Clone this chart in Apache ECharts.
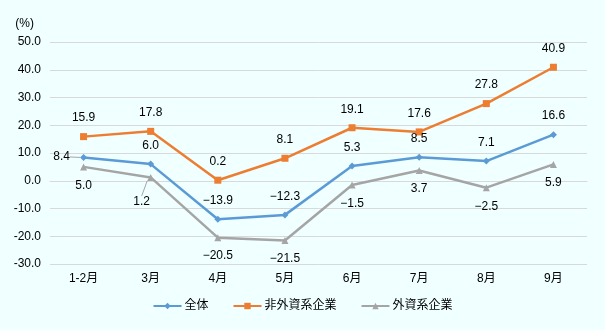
<!DOCTYPE html>
<html>
<head>
<meta charset="utf-8">
<script src="https://cdn.jsdelivr.net/npm/echarts@6/dist/echarts.min.js"></script>
<style>
  html, body { margin: 0; padding: 0; background: #F0FFFF; }
  #chart { width: 605px; height: 330px; }
</style>
</head>
<body>
<div id="chart"></div>
<script>
// Month categories on the x axis
const months = ['1-2月', '3月', '4月', '5月', '6月', '7月', '8月', '9月'];

// Year-on-year growth (%) per group
const total      = [8.4, 6.0, -13.9, -12.3, 5.3, 8.5, 7.1, 16.6];
const nonForeign = [15.9, 17.8, 0.2, 8.1, 19.1, 17.6, 27.8, 40.9];
const foreign    = [5.0, 1.2, -20.5, -21.5, -1.5, 3.7, -2.5, 5.9];

const seriesNames = ['全体', '非外資系企業', '外資系企業'];

const FONT = "'Liberation Sans', 'Noto Sans CJK JP', sans-serif";

const chart = echarts.init(document.getElementById('chart'));

function fmt(v) {
  return v.toFixed(1).replace('-', '\u2212');
}

function labelStyle(pos) {
  return {
    show: true,
    position: pos,
    distance: 9,
    color: '#000',
    fontSize: 12,
    fontFamily: FONT,
    formatter: p => fmt(p.value)
  };
}

const guide = { show: true, lineStyle: { color: '#A6A6A6', width: 1 } };

// Wrap values; the item at `tied` gets a leader line back to its point
function withGuide(values, tied) {
  return values.map((v, i) => i === tied ? { value: v, labelLine: guide } : v);
}

// A couple of labels are pulled aside from their point
function shiftLabels(params) {
  if (params.seriesIndex === 0 && params.dataIndex === 0) {
    return { dx: -22, dy: 18 };
  }
  if (params.seriesIndex === 2 && params.dataIndex === 1) {
    return { dx: -9, dy: 6 };
  }
  return {};
}

chart.setOption({
  backgroundColor: '#F0FFFF',
  animation: false,
  textStyle: { fontFamily: FONT },
  grid: { left: 50, right: 18, top: 42, bottom: 66 },
  legend: {
    bottom: 13,
    left: 'center',
    itemWidth: 28,
    itemHeight: 8,
    itemGap: 24,
    textStyle: { fontSize: 12, color: '#000', fontFamily: FONT, padding: [0, 0, 0, -2] },
    data: seriesNames
  },
  xAxis: {
    type: 'category',
    data: months,
    boundaryGap: true,
    axisLine: { show: true, lineStyle: { color: '#D9D9D9' } },
    axisTick: { show: false },
    axisLabel: { color: '#000', fontSize: 12, margin: 9, fontFamily: FONT }
  },
  yAxis: {
    type: 'value',
    min: -30,
    max: 50,
    interval: 10,
    name: '(%)',
    nameLocation: 'end',
    nameGap: 18,
    nameTextStyle: {
      color: '#000', fontSize: 12, align: 'right', verticalAlign: 'middle',
      padding: [0, 16, 0, 0], fontFamily: FONT
    },
    axisLine: { show: false },
    axisTick: { show: false },
    axisLabel: { color: '#000', fontSize: 12, margin: 9, formatter: v => v.toFixed(1), fontFamily: FONT },
    splitLine: { lineStyle: { color: '#D9D9D9', width: 1 } }
  },
  series: [
    {
      name: seriesNames[0],
      type: 'line',
      data: withGuide(total, 0),
      symbol: 'diamond',
      symbolSize: 7,
      color: '#5B9BD5',
      lineStyle: { width: 2.5 },
      label: labelStyle('top'),
      labelLine: { show: false },
      labelLayout: shiftLabels,
      z: 3
    },
    {
      name: seriesNames[1],
      type: 'line',
      data: nonForeign,
      symbol: 'rect',
      symbolSize: 7,
      color: '#ED7D31',
      lineStyle: { width: 2.5 },
      label: labelStyle('top'),
      z: 2
    },
    {
      name: seriesNames[2],
      type: 'line',
      data: withGuide(foreign, 1),
      symbol: 'triangle',
      symbolSize: 7,
      color: '#A5A5A5',
      lineStyle: { width: 2.5 },
      label: labelStyle('bottom'),
      labelLine: { show: false },
      labelLayout: shiftLabels,
      z: 1
    }
  ]
});
</script>
</body>
</html>
